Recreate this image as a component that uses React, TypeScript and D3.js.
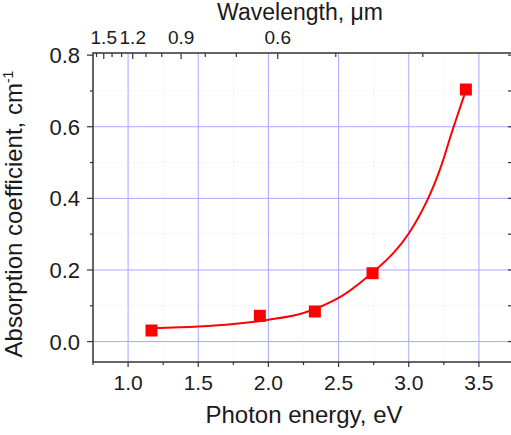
import { useEffect, useRef } from 'react'
import * as d3 from 'd3'

// measured points
const energy = [1.167, 1.939, 2.331, 2.742, 3.407]
const absorption = [0.031, 0.072, 0.084, 0.191, 0.704]

// fitted curve
const fitEnergy = [1.17, 1.5, 1.75, 2.0, 2.25, 2.5, 2.65, 2.89, 3.0, 3.13, 3.22, 3.31, 3.41]
const fitAbsorption = [0.037, 0.042, 0.049, 0.061, 0.080, 0.122, 0.163, 0.247, 0.302, 0.393, 0.478, 0.588, 0.705]

const xTicks = [1.0, 1.5, 2.0, 2.5, 3.0, 3.5]
const xMinor = [0.75, 1.25, 1.75, 2.25, 2.75, 3.25, 3.75]
const yTicks = [0.0, 0.2, 0.4, 0.6, 0.8]
const yMinor = [0.1, 0.3, 0.5, 0.7]
const yRightTicks = [0.0, 0.1, 0.2, 0.3, 0.4, 0.5, 0.6, 0.7, 0.8]
const yRightMinor = [-0.05, 0.05, 0.15, 0.25, 0.35, 0.45, 0.55, 0.65, 0.75]
const waveLabels = [1.5, 1.2, 0.9, 0.6]
const waveTicks = [1.6, 1.5, 1.4, 1.3, 1.2, 1.1, 1.0, 0.9, 0.8, 0.7, 0.6, 0.5, 0.4]

const W = 511
const H = 435
const FONT = '"Liberation Sans", Arial, sans-serif'

export default function App() {
  const svgRef = useRef<SVGSVGElement>(null)

  useEffect(() => {
    if (!svgRef.current) return
    const svg = d3.select(svgRef.current)
    svg.selectAll('*').remove()

    const left = 93, right = 514, top = 53, bottom = 362
    const x = d3.scaleLinear().domain([0.75, 3.75]).range([left, right])
    const y = d3.scaleLinear().domain([-0.057, 0.806]).range([bottom, top])
    const eToX = (lam: number) => x(1.24 / lam)

    const g = svg.append('g')

    // minor grid (faint dotted)
    g.selectAll('.vminor')
      .data(xMinor.filter(d => d > 0.8 && d < 3.7))
      .enter().append('line')
      .attr('x1', d => x(d)).attr('x2', d => x(d))
      .attr('y1', top).attr('y2', bottom)
      .attr('stroke', '#d6ecd6').attr('stroke-width', 1)
      .attr('stroke-dasharray', '1,3')
    g.selectAll('.hminor')
      .data(yMinor)
      .enter().append('line')
      .attr('x1', left).attr('x2', right)
      .attr('y1', d => y(d)).attr('y2', d => y(d))
      .attr('stroke', '#d6ecd6').attr('stroke-width', 1)
      .attr('stroke-dasharray', '1,3')

    // major grid
    g.selectAll('.vgrid')
      .data(xTicks)
      .enter().append('line')
      .attr('x1', d => x(d)).attr('x2', d => x(d))
      .attr('y1', top).attr('y2', bottom)
      .attr('stroke', '#a8a8ff').attr('stroke-width', 1)
    g.selectAll('.hgrid')
      .data(yTicks.filter(d => d < 0.8))
      .enter().append('line')
      .attr('x1', left).attr('x2', right)
      .attr('y1', d => y(d)).attr('y2', d => y(d))
      .attr('stroke', '#a8a8ff').attr('stroke-width', 1)

    // frame
    g.append('rect')
      .attr('x', left).attr('y', top)
      .attr('width', right - left).attr('height', bottom - top)
      .attr('fill', 'none').attr('stroke', '#333').attr('stroke-width', 1.5)

    const tick = (x1: number, y1: number, x2: number, y2: number) =>
      g.append('line')
        .attr('x1', x1).attr('y1', y1).attr('x2', x2).attr('y2', y2)
        .attr('stroke', '#333').attr('stroke-width', 1.2)

    // bottom axis
    xTicks.forEach(d => tick(x(d), bottom, x(d), bottom + 5))
    xMinor.forEach(d => tick(x(d), bottom, x(d), bottom + 3))
    g.selectAll('.xlab')
      .data(xTicks)
      .enter().append('text')
      .attr('x', d => x(d)).attr('y', 390)
      .attr('text-anchor', 'middle')
      .attr('font-family', FONT).attr('font-size', 21).attr('fill', '#1a1a1a')
      .text(d => d3.format('.1f')(d))

    // left axis
    yTicks.forEach(d => tick(left, y(d), left - 6, y(d)))
    yMinor.forEach(d => tick(left, y(d), left - 3, y(d)))
    g.selectAll('.ylab')
      .data(yTicks)
      .enter().append('text')
      .attr('x', 80).attr('y', d => y(d) + 8)
      .attr('text-anchor', 'end')
      .attr('font-family', FONT).attr('font-size', 22).attr('fill', '#1a1a1a')
      .text(d => d3.format('.1f')(d))

    // right axis (inward ticks)
    yRightTicks.forEach(d => tick(right, y(d), right - 6, y(d)))
    yRightMinor.forEach(d => tick(right, y(d), right - 3, y(d)))

    // top axis: wavelength
    waveTicks.filter(l => 1.24 / l > 0.75).forEach(l => {
      const major = waveLabels.includes(l)
      tick(eToX(l), top, eToX(l), top + (major ? 6 : 4))
    })
    g.selectAll('.wlab')
      .data(waveLabels)
      .enter().append('text')
      .attr('x', d => eToX(d)).attr('y', 44)
      .attr('text-anchor', 'middle')
      .attr('font-family', FONT).attr('font-size', 19).attr('fill', '#1a1a1a')
      .text(d => d3.format('.1f')(d))

    // titles
    g.append('text')
      .attr('x', 300).attr('y', 20)
      .attr('text-anchor', 'middle')
      .attr('font-family', FONT).attr('font-size', 23).attr('fill', '#1a1a1a')
      .text('Wavelength, μm')
    g.append('text')
      .attr('x', 304).attr('y', 423)
      .attr('text-anchor', 'middle')
      .attr('font-family', FONT).attr('font-size', 24).attr('fill', '#1a1a1a')
      .text('Photon energy, eV')
    const yt = g.append('text')
      .attr('transform', 'translate(22,214) rotate(-90)')
      .attr('text-anchor', 'middle')
      .attr('font-family', FONT).attr('font-size', 24).attr('fill', '#1a1a1a')
    yt.append('tspan').text('Absorption coefficient, cm')
    yt.append('tspan').attr('dy', -9).attr('font-size', 14).text('-1')

    // fit curve
    const line = d3.line<number>()
      .x((_, i) => x(fitEnergy[i]))
      .y(d => y(d))
      .curve(d3.curveCatmullRom.alpha(0.5))
    g.append('path')
      .attr('d', line(fitAbsorption))
      .attr('fill', 'none').attr('stroke', '#ff0000').attr('stroke-width', 2)

    // data points
    const s = 12
    g.selectAll('.pt')
      .data(absorption)
      .enter().append('rect')
      .attr('x', (_, i) => x(energy[i]) - s / 2)
      .attr('y', d => y(d) - s / 2)
      .attr('width', s).attr('height', s)
      .attr('fill', '#ff0000')
  }, [])

  return (
    <svg
      ref={svgRef}
      width={W}
      height={H}
      style={{ position: 'absolute', left: 0, top: 0, background: '#fff' }}
    />
  )
}
